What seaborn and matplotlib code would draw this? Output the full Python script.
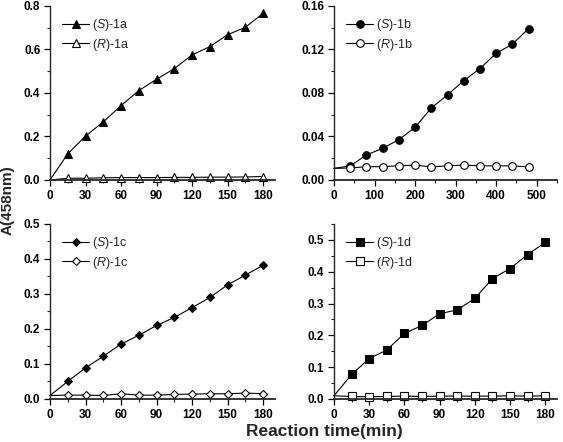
import pandas as pd
import seaborn as sns
import matplotlib.pyplot as plt
from matplotlib.ticker import MultipleLocator

# reaction times (min)
time_min = [0, 15, 30, 45, 60, 75, 90, 105, 120, 135, 150, 165, 180]
time_b = [0, 40, 80, 120, 160, 200, 240, 280, 320, 360, 400, 440, 480]

# absorbance at 458 nm
s1a = [0.0, 0.120, 0.202, 0.267, 0.342, 0.411, 0.463, 0.512, 0.575, 0.613, 0.668, 0.702, 0.766]
r1a = [0.0, 0.008, 0.008, 0.010, 0.011, 0.011, 0.011, 0.012, 0.012, 0.013, 0.013, 0.014, 0.016]
s1b = [0.0107, 0.0129, 0.0230, 0.0291, 0.0371, 0.0484, 0.0662, 0.0782, 0.0913, 0.1024, 0.1165, 0.1248, 0.1392]
r1b = [0.0107, 0.0110, 0.0122, 0.0122, 0.0131, 0.0137, 0.0120, 0.0130, 0.0137, 0.0130, 0.0130, 0.0130, 0.0120]
s1c = [0.010, 0.050, 0.089, 0.122, 0.157, 0.182, 0.210, 0.233, 0.261, 0.290, 0.326, 0.354, 0.382]
r1c = [0.010, 0.011, 0.011, 0.010, 0.015, 0.011, 0.011, 0.013, 0.014, 0.015, 0.015, 0.017, 0.015]
s1d = [0.010, 0.077, 0.127, 0.154, 0.206, 0.231, 0.268, 0.280, 0.316, 0.378, 0.410, 0.454, 0.492]
r1d = [0.010, 0.008, 0.007, 0.008, 0.009, 0.008, 0.009, 0.009, 0.009, 0.009, 0.010, 0.009, 0.010]

sns.set_style("ticks")
plt.rcParams['font.family'] = ['Liberation Sans', 'DejaVu Sans']
plt.rcParams['mathtext.fontset'] = 'custom'
plt.rcParams['mathtext.it'] = 'Liberation Sans:italic'
plt.rcParams['mathtext.rm'] = 'Liberation Sans'

fig = plt.figure(figsize=(5.63, 4.42), dpi=100)

panels = [
    # rect, x, S, R, marker, tag, xlim, ylim, xmaj, xmin, ymaj, ymin, yfmt
    ([0.0888, 0.5928, 0.3996, 0.3937], time_min, s1a, r1a, '^', '1a', 190, 0.8, 30, 15, 0.2, 0.1, '%.1f'),
    ([0.5932, 0.5928, 0.3961, 0.3937], time_b, s1b, r1b, 'o', '1b', 550, 0.16, 100, 50, 0.04, 0.02, '%.2f'),
    ([0.0888, 0.0973, 0.3996, 0.3960], time_min, s1c, r1c, 'D', '1c', 190, 0.5, 30, 15, 0.1, 0.05, '%.1f'),
    ([0.5932, 0.0973, 0.3961, 0.3960], time_min, s1d, r1d, 's', '1d', 190, 0.55, 30, 15, 0.1, 0.05, '%.1f'),
]

for rect, x, s, r, mk, tag, xmax, ymax, xmaj, xmi, ymaj, ymi, yfmt in panels:
    ax = fig.add_axes(rect)
    df = pd.DataFrame({'t': x, 'S': s, 'R': r})
    ms = 4.5 if mk == 'D' else 5.5
    sns.lineplot(data=df, x='t', y='S', ax=ax, color='black', lw=0.8,
                 marker=mk, markersize=ms, markerfacecolor='black', markeredgecolor='black',
                 markevery=slice(1, None), label=f'($\\it{{S}}$)-{tag}', clip_on=False)
    sns.lineplot(data=df, x='t', y='R', ax=ax, color='black', lw=0.8,
                 marker=mk, markersize=ms, markerfacecolor='white', markeredgecolor='black',
                 markeredgewidth=0.8, markevery=slice(1, None),
                 label=f'($\\it{{R}}$)-{tag}', clip_on=False)
    ax.set_xlim(0, xmax)
    ax.set_ylim(0, ymax)
    ax.xaxis.set_major_locator(MultipleLocator(xmaj))
    ax.xaxis.set_minor_locator(MultipleLocator(xmi))
    ax.yaxis.set_major_locator(MultipleLocator(ymaj))
    ax.yaxis.set_minor_locator(MultipleLocator(ymi))
    ax.yaxis.set_major_formatter(plt.FormatStrFormatter(yfmt))
    ax.set_xticks([v for v in ax.get_xticks() if v <= xmax - 5])
    ax.set_xlim(0, xmax)
    sns.despine(ax=ax)
    ax.spines['left'].set_linewidth(1.0)
    ax.spines['bottom'].set_linewidth(1.3)
    ax.tick_params(which='major', direction='out', length=4, width=0.9, labelsize=8.5, pad=3, colors='black')
    ax.tick_params(which='minor', direction='out', length=2, width=0.8)
    for lbl in ax.get_xticklabels() + ax.get_yticklabels():
        lbl.set_fontweight('bold')
    ax.set_xlabel('')
    ax.set_ylabel('')
    ax.legend(loc='upper left', bbox_to_anchor=(0.02, 0.98), frameon=False, fontsize=9,
              handlelength=2.2, handletextpad=0.2, labelspacing=0.3, borderaxespad=0.2)

fig.text(0.577, 0.023, 'Reaction time(min)', ha='center', va='center', fontsize=12.5, fontweight='bold')
fig.text(0.014, 0.548, 'A(458nm)', ha='center', va='center', rotation=90, fontsize=11, fontweight='bold')

fig.savefig('out.png', dpi=100)
